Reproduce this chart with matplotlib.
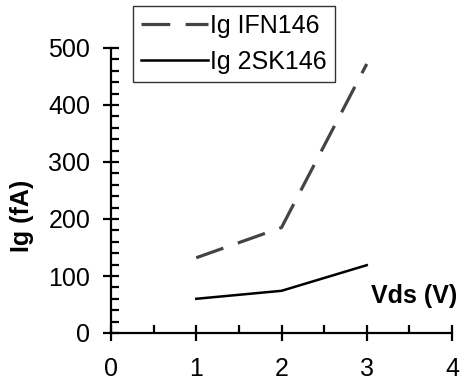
import numpy as np
import matplotlib.pyplot as plt
from matplotlib.ticker import MultipleLocator

plt.rcParams['font.family'] = ['Liberation Sans', 'DejaVu Sans']

# datos
vds = [1, 2, 3]
ig_ifn146 = [132, 185, 472]
ig_2sk146 = [60, 74, 119]

fig = plt.figure(figsize=(4.69, 3.82), dpi=100)
ax = fig.add_axes([111/469, 1 - 333/382, (452-111)/469, (333-48)/382])

ax.plot(vds, ig_ifn146, color='#444444', linewidth=2.3, dashes=(9, 4.8),
        label='Ig IFN146')
ax.plot(vds, ig_2sk146, color='black', linewidth=1.8, label='Ig 2SK146')

ax.set_xlim(0, 4)
ax.set_ylim(0, 500)
ax.spines['top'].set_visible(False)
ax.spines['right'].set_visible(False)
for s in ['left', 'bottom']:
    ax.spines[s].set_linewidth(1.6)

ax.xaxis.set_major_locator(MultipleLocator(1))
ax.xaxis.set_minor_locator(MultipleLocator(0.5))
ax.yaxis.set_major_locator(MultipleLocator(100))
ax.yaxis.set_minor_locator(MultipleLocator(20))

ax.tick_params(axis='x', which='major', direction='inout', length=12, width=1.6,
               pad=11, labelsize=18)
ax.tick_params(axis='x', which='minor', direction='in', length=6, width=1.6)
ax.tick_params(axis='y', which='major', direction='inout', length=12, width=1.6,
               pad=9, labelsize=18)
ax.tick_params(axis='y', which='minor', direction='in', length=6, width=1.6)

ax.set_ylabel('Ig (fA)', fontsize=18, fontweight='bold')
ax.yaxis.set_label_coords(-0.225, 0.41)
ax.text(4.06, 65, 'Vds (V)', fontsize=18, fontweight='bold',
        ha='right', va='center')

leg = ax.legend(loc='upper left', bbox_to_anchor=(133/469, 1 - 6/382),
                bbox_transform=fig.transFigure, fontsize=18, frameon=True,
                fancybox=False, edgecolor='black', handlelength=2.7,
                handletextpad=0.1, borderpad=0.3, labelspacing=0.5,
                borderaxespad=0)
leg.get_frame().set_linewidth(1)

fig.savefig('out.png', dpi=100)
